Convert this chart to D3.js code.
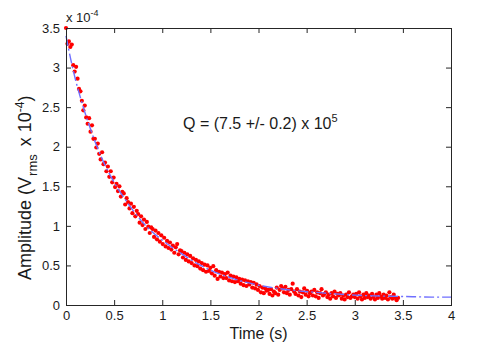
<!DOCTYPE html>
<html lang="en">
<head>
  <meta charset="UTF-8">
  <title>Ring-down amplitude</title>
  <style>
    body { margin: 0; background: #fff; }
    svg text { font-family: "Liberation Sans", Arial, sans-serif; fill: #1a1a1a; }
    .axis text { font-size: 13px; }
    .axis line { stroke: #262626; }
  </style>
</head>
<body>
  <svg id="chart"></svg>

  <script src="https://d3js.org/d3.v7.min.js"></script>
  <script>
    // measured time (s)
    const sampleTime = [
      0, 0.015, 0.03, 0.045, 0.06, 0.075, 0.09, 0.105, 0.12, 0.135,
      0.15, 0.165, 0.18, 0.195, 0.21, 0.225, 0.24, 0.255, 0.27, 0.285,
      0.3, 0.315, 0.33, 0.345, 0.36, 0.375, 0.39, 0.405, 0.42, 0.435,
      0.45, 0.465, 0.48, 0.495, 0.51, 0.525, 0.54, 0.555, 0.57, 0.585,
      0.6, 0.615, 0.63, 0.645, 0.66, 0.675, 0.69, 0.705, 0.72, 0.735,
      0.75, 0.765, 0.78, 0.795, 0.81, 0.825, 0.84, 0.855, 0.87, 0.885,
      0.9, 0.915, 0.93, 0.945, 0.96, 0.975, 0.99, 1.005, 1.02, 1.035,
      1.05, 1.065, 1.08, 1.095, 1.11, 1.125, 1.14, 1.155, 1.17, 1.185,
      1.2, 1.215, 1.23, 1.245, 1.26, 1.275, 1.29, 1.305, 1.32, 1.335,
      1.35, 1.365, 1.38, 1.395, 1.41, 1.425, 1.44, 1.455, 1.47, 1.485,
      1.5, 1.515, 1.53, 1.545, 1.56, 1.575, 1.59, 1.605, 1.62, 1.635,
      1.65, 1.665, 1.68, 1.695, 1.71, 1.725, 1.74, 1.755, 1.77, 1.785,
      1.8, 1.815, 1.83, 1.845, 1.86, 1.875, 1.89, 1.905, 1.92, 1.935,
      1.95, 1.965, 1.98, 1.995, 2.01, 2.025, 2.04, 2.055, 2.07, 2.085,
      2.1, 2.115, 2.13, 2.145, 2.16, 2.175, 2.19, 2.205, 2.22, 2.235,
      2.25, 2.265, 2.28, 2.295, 2.31, 2.325, 2.34, 2.355, 2.37, 2.385,
      2.4, 2.415, 2.43, 2.445, 2.46, 2.475, 2.49, 2.505, 2.52, 2.535,
      2.55, 2.565, 2.58, 2.595, 2.61, 2.625, 2.64, 2.655, 2.67, 2.685,
      2.7, 2.715, 2.73, 2.745, 2.76, 2.775, 2.79, 2.805, 2.82, 2.835,
      2.85, 2.865, 2.88, 2.895, 2.91, 2.925, 2.94, 2.955, 2.97, 2.985,
      3.0, 3.015, 3.03, 3.045, 3.06, 3.075, 3.09, 3.105, 3.12, 3.135,
      3.15, 3.165, 3.18, 3.195, 3.21, 3.225, 3.24, 3.255, 3.27, 3.285,
      3.3, 3.315, 3.33, 3.345, 3.36, 3.375, 3.39, 3.405, 3.42, 3.435,
      3.45
    ];

    // measured amplitude (x 1e-4 Vrms)
    const sampleAmp = [
      3.50, 3.30, 3.33, 3.26, 3.29, 3.03, 2.95, 3.01, 2.86, 2.73,
      2.70, 2.58, 2.46, 2.52, 2.37, 2.29, 2.36, 2.19, 2.27, 2.10,
      2.10, 1.99, 2.04, 1.91, 1.84, 1.93, 1.78, 1.80, 1.69, 1.75,
      1.62, 1.69, 1.55, 1.61, 1.49, 1.53, 1.44, 1.50, 1.37, 1.43,
      1.41, 1.27, 1.35, 1.30, 1.22, 1.28, 1.16, 1.24, 1.12, 1.19,
      1.15, 1.04, 1.12, 1.01, 1.08, 0.96, 1.05, 0.99, 0.91, 0.98,
      0.96, 0.86, 0.94, 0.83, 0.91, 0.80, 0.88, 0.77, 0.85, 0.74,
      0.81, 0.72, 0.79, 0.70, 0.75, 0.66, 0.73, 0.77, 0.64, 0.69,
      0.68, 0.60, 0.66, 0.57, 0.64, 0.55, 0.62, 0.53, 0.59, 0.50,
      0.57, 0.49, 0.55, 0.46, 0.53, 0.44, 0.51, 0.42, 0.50, 0.43,
      0.47, 0.40, 0.49, 0.37, 0.44, 0.33, 0.42, 0.36, 0.41, 0.34,
      0.39, 0.34, 0.41, 0.31, 0.37, 0.30, 0.36, 0.29, 0.35, 0.30,
      0.33, 0.27, 0.32, 0.25, 0.31, 0.24, 0.30, 0.26, 0.29, 0.22,
      0.28, 0.21, 0.26, 0.19, 0.24, 0.16, 0.22, 0.15, 0.21, 0.18,
      0.19, 0.14, 0.20, 0.12, 0.17, 0.15, 0.22, 0.13, 0.19, 0.24,
      0.21, 0.16, 0.23, 0.15, 0.19, 0.13, 0.20, 0.27, 0.17, 0.14,
      0.20, 0.12, 0.17, 0.10, 0.16, 0.21, 0.13, 0.18, 0.11, 0.15,
      0.17, 0.12, 0.19, 0.11, 0.16, 0.09, 0.15, 0.20, 0.12, 0.14,
      0.16, 0.10, 0.13, 0.08, 0.15, 0.11, 0.17, 0.09, 0.14, 0.12,
      0.15, 0.08, 0.12, 0.07, 0.13, 0.10, 0.16, 0.09, 0.11, 0.13,
      0.10, 0.14, 0.08, 0.16, 0.11, 0.07, 0.13, 0.09, 0.15, 0.10,
      0.12, 0.08, 0.14, 0.10, 0.07, 0.13, 0.09, 0.15, 0.11, 0.08,
      0.13, 0.09, 0.12, 0.07, 0.16, 0.10, 0.08, 0.13, 0.09, 0.06,
      0.09
    ];

    // exponential fit
    const fitTime = [0, 0.05, 0.1, 0.15, 0.2, 0.25, 0.3, 0.35, 0.4, 0.45, 0.5, 0.6, 0.7, 0.8, 0.9, 1.0,
      1.1, 1.2, 1.3, 1.4, 1.5, 1.6, 1.7, 1.8, 1.9, 2.0, 2.2, 2.4, 2.6, 2.8, 3.0, 3.2, 3.4, 3.6, 3.8, 4.0];
    const fitAmp = [3.40, 3.10, 2.84, 2.62, 2.42, 2.24, 2.07, 1.92, 1.78, 1.66, 1.55, 1.36, 1.19, 1.04, 0.92, 0.82,
      0.73, 0.65, 0.57, 0.50, 0.44, 0.39, 0.35, 0.31, 0.28, 0.25, 0.21, 0.18, 0.16, 0.14, 0.125, 0.115, 0.11, 0.105, 0.10, 0.10];

    const xTicks = [0, 0.5, 1, 1.5, 2, 2.5, 3, 3.5, 4];
    const yTicks = [0, 0.5, 1, 1.5, 2, 2.5, 3, 3.5];

    const svgWidth = 498;
    const svgHeight = 344;
    const plot = { left: 66, top: 28, right: 451, bottom: 305 };

    const svg = d3.select("#chart")
      .attr("width", svgWidth)
      .attr("height", svgHeight);

    const x = d3.scaleLinear().domain([0, 4]).range([plot.left, plot.right]);
    const y = d3.scaleLinear().domain([0, 3.5]).range([plot.bottom, plot.top]);

    // data points
    const points = sampleTime.map((t, i) => ({ t: t, a: sampleAmp[i] }));
    svg.append("g")
      .selectAll("circle")
      .data(points)
      .enter().append("circle")
      .attr("cx", d => x(d.t))
      .attr("cy", d => y(d.a))
      .attr("r", 2.1)
      .attr("fill", "#ff0000");

    // fit curve
    const fit = fitTime.map((t, i) => [t, fitAmp[i]]);
    const line = d3.line()
      .x(d => x(d[0]))
      .y(d => y(d[1]))
      .curve(d3.curveMonotoneX);

    svg.append("path")
      .datum(fit)
      .attr("d", line)
      .attr("fill", "none")
      .attr("stroke", "#6f6fff")
      .attr("stroke-width", 1.4)
      .attr("stroke-dasharray", "10,3,2,3");

    // axes, ticks pointing inward on all four sides
    const fmt = d => String(d);
    svg.append("g")
      .attr("class", "axis")
      .attr("transform", `translate(0,${plot.bottom})`)
      .call(d3.axisBottom(x).tickValues(xTicks).tickFormat(fmt).tickSizeInner(-5).tickSizeOuter(0).tickPadding(6));
    svg.append("g")
      .attr("class", "axis")
      .attr("transform", `translate(${plot.left},0)`)
      .call(d3.axisLeft(y).tickValues(yTicks).tickFormat(fmt).tickSizeInner(-5).tickSizeOuter(0).tickPadding(6));
    svg.append("g")
      .attr("class", "axis")
      .attr("transform", `translate(0,${plot.top})`)
      .call(d3.axisTop(x).tickValues(xTicks).tickFormat("").tickSizeInner(-5).tickSizeOuter(0));
    svg.append("g")
      .attr("class", "axis")
      .attr("transform", `translate(${plot.right},0)`)
      .call(d3.axisRight(y).tickValues(yTicks).tickFormat("").tickSizeInner(-5).tickSizeOuter(0));
    svg.selectAll(".axis .domain").remove();

    svg.append("rect")
      .attr("x", plot.left + 0.5)
      .attr("y", plot.top + 0.5)
      .attr("width", plot.right - plot.left)
      .attr("height", plot.bottom - plot.top)
      .attr("fill", "none")
      .attr("stroke", "#262626")
      .attr("stroke-width", 1);

    // exponent above the y axis
    const expo = svg.append("text")
      .attr("x", plot.left)
      .attr("y", 22)
      .style("font-size", "13px");
    expo.append("tspan").text("x 10");
    expo.append("tspan").attr("dy", -6).style("font-size", "9px").text("-4");

    // axis titles
    svg.append("text")
      .attr("x", (plot.left + plot.right) / 2)
      .attr("y", 339)
      .attr("text-anchor", "middle")
      .style("font-size", "16px")
      .text("Time (s)");

    const ylab = svg.append("text")
      .attr("transform", "translate(31,280) rotate(-90)")
      .style("font-size", "18px");
    ylab.append("tspan").text("Amplitude (V");
    ylab.append("tspan").attr("dx", 1).attr("dy", 6).style("font-size", "13px").text("rms");
    ylab.append("tspan").attr("dx", 8).attr("dy", -6).text("x");
    ylab.append("tspan").attr("dx", 5).text("10");
    ylab.append("tspan").attr("dy", -7).style("font-size", "12px").text("-4");
    ylab.append("tspan").attr("dy", 7).text(")");

    // quality factor annotation
    const note = svg.append("text")
      .attr("x", 183)
      .attr("y", 129)
      .style("font-size", "16px");
    note.append("tspan").text("Q = (7.5 +/- 0.2) x 10");
    note.append("tspan").attr("dy", -7).style("font-size", "11px").text("5");
  </script>
</body>
</html>
